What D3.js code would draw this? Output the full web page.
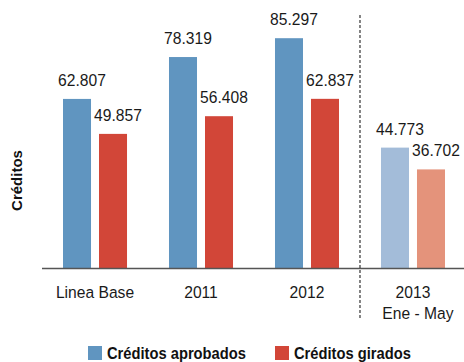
<!DOCTYPE html>
<html>
<head>
<meta charset="utf-8">
<script src="https://cdn.jsdelivr.net/npm/d3@7"></script>
<style>
  html, body { margin: 0; padding: 0; background: #fff; }
  svg { display: block; }
  text { font-family: "Liberation Sans", Arial, sans-serif; }
</style>
</head>
<body>
<svg id="chart" width="464" height="362"></svg>
<script>
// Categories and series
const categories = ["Linea Base", "2011", "2012", "2013"];
const categorySubLabels = ["", "", "", "Ene - May"];
const seriesNames = ["Créditos aprobados", "Créditos girados"];
const aprobados = [62807, 78319, 85297, 44773];
const girados = [49857, 56408, 62837, 36702];
const partialCategory = "2013";

const colors = ["#6095c0", "#d24638"];
const partialColors = ["#a3bcd9", "#e4937b"];

// slight horizontal squeeze for a condensed look
const NARROW = 0.92;
const narrowAt = (x, yy) => `translate(${x},${yy}) scale(${NARROW},1)`;

const svg = d3.select("#chart");
const fmt = d3.formatLocale({ decimal: ",", thousands: ".", grouping: [3], currency: ["$", ""] }).format(",d");

const baseY = 268.5;
const y = d3.scaleLinear().domain([0, 100000]).range([baseY, -1.5]);

const x0 = d3.scaleBand().domain(categories)
  .range([31.2, 476.8]).paddingInner(0.396).paddingOuter(0.3);
const x1 = d3.scaleBand().domain(seriesNames)
  .range([0, x0.bandwidth()]).paddingInner(0.222).paddingOuter(0);

const rows = categories.map((c, i) => ({
  cat: c,
  vals: [aprobados[i], girados[i]]
}));

// Bars
const groups = svg.append("g").selectAll("g").data(rows).join("g")
  .attr("transform", d => `translate(${x0(d.cat)},0)`);

groups.selectAll("rect")
  .data(d => d.vals.map((v, k) => ({ cat: d.cat, k, v })))
  .join("rect")
  .attr("x", d => x1(seriesNames[d.k]))
  .attr("y", d => y(d.v))
  .attr("width", x1.bandwidth())
  .attr("height", d => baseY - y(d.v))
  .attr("fill", d => d.cat === partialCategory ? partialColors[d.k] : colors[d.k]);

// Value labels
groups.selectAll("text")
  .data(d => d.vals.map((v, k) => ({ cat: d.cat, k, v })))
  .join("text")
  .attr("transform", d => narrowAt(x1(seriesNames[d.k]) + x1.bandwidth() / 2 + 5, y(d.v) - 13))
  .attr("text-anchor", "middle")
  .attr("font-size", 17)
  .attr("fill", "#1a1a1a")
  .text(d => fmt(d.v));

// Baseline axis
svg.append("line")
  .attr("x1", 42).attr("x2", 464)
  .attr("y1", baseY).attr("y2", baseY)
  .attr("stroke", "#555").attr("stroke-width", 1.6);

// Category labels
const catG = svg.append("g");
catG.selectAll("text.cat").data(categories).join("text")
  .attr("class", "cat")
  .attr("transform", d => narrowAt(x0(d) + x0.bandwidth() / 2, 297.7))
  .attr("text-anchor", "middle")
  .attr("font-size", 17)
  .attr("fill", "#1a1a1a")
  .text(d => d);
catG.selectAll("text.sub").data(categories.map((c, i) => ({ c, s: categorySubLabels[i] })).filter(d => d.s))
  .join("text")
  .attr("class", "sub")
  .attr("transform", d => narrowAt(x0(d.c) + x0.bandwidth() / 2 + 5, 318.7))
  .attr("text-anchor", "middle")
  .attr("font-size", 17)
  .attr("fill", "#1a1a1a")
  .text(d => d.s);

// Dashed separator before the partial-year group
const iPart = categories.indexOf(partialCategory);
const sepX = (x0(categories[iPart - 1]) + x0.bandwidth() + x0(partialCategory)) / 2;
svg.append("line")
  .attr("x1", sepX).attr("x2", sepX)
  .attr("y1", 15).attr("y2", 318)
  .attr("stroke", "#333").attr("stroke-width", 1.2)
  .attr("stroke-dasharray", "3,2");

// Y axis title
svg.append("text")
  .attr("transform", "translate(22,180.5) rotate(-90)")
  .attr("text-anchor", "middle")
  .attr("font-weight", "bold")
  .attr("font-size", 15)
  .attr("fill", "#111")
  .text("Créditos");

// Legend
const legendX = [88, 275];
const legend = svg.append("g").selectAll("g").data(seriesNames).join("g")
  .attr("transform", (d, i) => `translate(${legendX[i]},346)`);
legend.append("rect")
  .attr("width", 14).attr("height", 14)
  .attr("fill", (d, i) => colors[i]);
legend.append("text")
  .attr("transform", narrowAt(19, 13))
  .attr("font-size", 16)
  .attr("font-weight", "bold")
  .attr("fill", "#111")
  .text(d => d);
</script>
</body>
</html>
